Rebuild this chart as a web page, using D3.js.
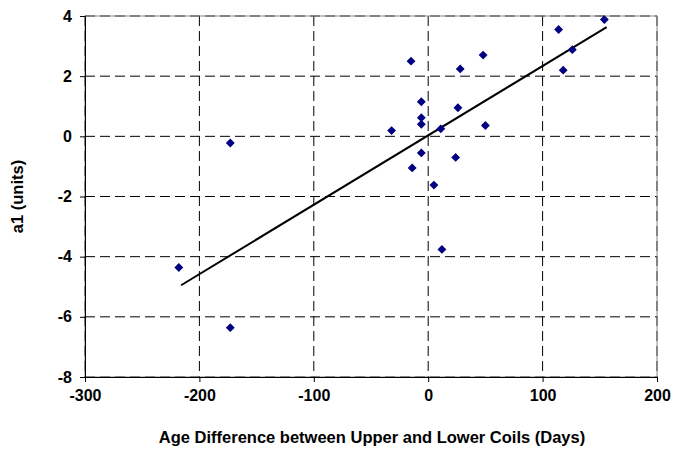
<!DOCTYPE html>
<html><head><meta charset="utf-8">
<script src="https://cdn.jsdelivr.net/npm/d3@7"></script>
<style>body{margin:0;background:#fff}text{font-family:"Liberation Sans",Arial,sans-serif;font-weight:bold}</style>
</head><body><div id="chart"></div>
<script>
// scatter points: age difference (days) vs a1 (units)
let ageDiff = [-218, -173, -173, -32, -15, -14, -6, -6, -6, -6, 5, 11, 12, 28, 26, 24, 48, 50, 114, 118, 126, 154];
let a1 = [-4.36, -0.22, -6.36, 0.19, 2.5, -1.05, 1.15, 0.62, 0.4, -0.55, -1.62, 0.25, -3.76, 2.24, 0.95, -0.7, 2.7, 0.36, 3.55, 2.2, 2.88, 3.88];
// trend line end points
let trendX = [-216, 156];
let trendY = [-4.95, 3.63];
let xTicks = [-300, -200, -100, 0, 100, 200];
let yTicks = [-8, -6, -4, -2, 0, 2, 4];

let margin = {top: 16, right: 16, bottom: 74, left: 85};
let width = 673 - margin.left - margin.right;
let height = 451 - margin.top - margin.bottom;

let svg = d3.select("#chart").append("svg")
    .attr("width", 673).attr("height", 451)
    .append("g")
    .attr("transform", "translate(" + margin.left + "," + margin.top + ")");

let x = d3.scaleLinear().domain([-300, 200]).range([0, width]);
let y = d3.scaleLinear().domain([-8, 4]).range([height, 0]);

// dashed grid
svg.selectAll(".hgrid").data(yTicks).enter().append("line")
    .attr("x1", 0).attr("x2", width)
    .attr("y1", d => y(d)).attr("y2", d => y(d))
    .attr("stroke", "#000").attr("stroke-dasharray", "10,5");
svg.selectAll(".vgrid").data(xTicks).enter().append("line")
    .attr("y1", 0).attr("y2", height)
    .attr("x1", d => x(d)).attr("x2", d => x(d))
    .attr("stroke", "#000").attr("stroke-dasharray", "10,5");

svg.append("rect").attr("width", width).attr("height", height)
    .attr("fill", "none").attr("stroke", "#888");

let fmt = d => String(d);
let xAxis = svg.append("g").attr("transform", "translate(0," + height + ")")
    .call(d3.axisBottom(x).tickValues(xTicks).tickFormat(fmt).tickSize(5).tickPadding(8));
let yAxis = svg.append("g")
    .call(d3.axisLeft(y).tickValues(yTicks).tickFormat(fmt).tickSize(5).tickPadding(8));
[xAxis, yAxis].forEach(a => {
    a.selectAll("text").style("font-size", "16px").attr("fill", "#000");
    a.selectAll("line,path").attr("stroke", "#000");
});

svg.append("text").attr("x", width / 2 + 1).attr("y", height + 66)
    .attr("text-anchor", "middle").style("font-size", "16.5px")
    .text("Age Difference between Upper and Lower Coils (Days)");
svg.append("text").attr("transform", `translate(-62, ${height / 2}) rotate(-90)`)
    .attr("text-anchor", "middle").style("font-size", "16.5px")
    .text("a1 (units)");

svg.append("line")
    .attr("x1", x(trendX[0])).attr("y1", y(trendY[0]))
    .attr("x2", x(trendX[1])).attr("y2", y(trendY[1]))
    .attr("stroke", "#000").attr("stroke-width", 2);

svg.selectAll(".pt").data(ageDiff).enter().append("path")
    .attr("d", d3.symbol(d3.symbolDiamond2, 50))
    .attr("transform", (d, i) => `translate(${x(d)},${y(a1[i])})`)
    .attr("fill", "#000080");
</script></body></html>
